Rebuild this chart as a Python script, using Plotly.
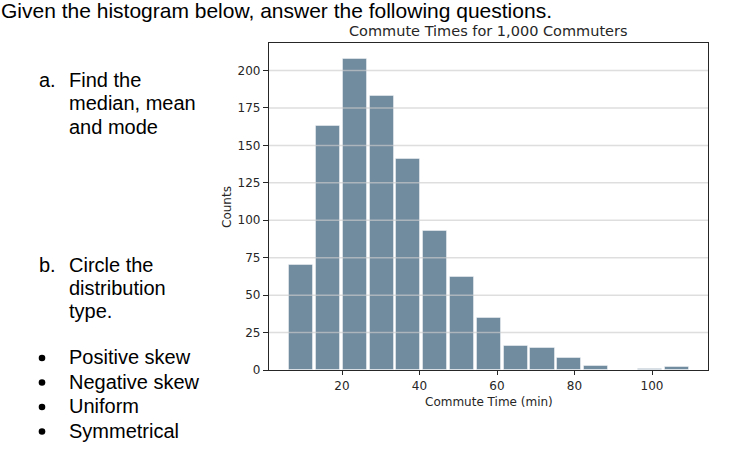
import plotly.graph_objects as go

# ---- data ----
counts = [70, 163, 208, 183, 141, 93, 62, 35, 16, 15, 8, 3, 0, 1, 2]
bin_start = 6.0
bin_width = 6.92
y_ticks = [0, 25, 50, 75, 100, 125, 150, 175, 200]
x_ticks = [20, 40, 60, 80, 100]
chart_title = "Commute Times for 1,000 Commuters"
x_label = "Commute Time (min)"
y_label = "Counts"
header = "Given the histogram below, answer the following questions."
part_a = ["Find the", "median, mean", "and mode"]
part_b = ["Circle the", "distribution", "type."]
options = ["Positive skew", "Negative skew", "Uniform", "Symmetrical"]

centers = [bin_start + bin_width * (i + 0.5) for i in range(len(counts))]

W, H = 735, 449
L, R, T, B = 269, 708, 43, 370


def px(x):
    return (x - L) / (R - L)


def py(y):
    return (B - y) / (B - T)


fig = go.Figure()
fig.add_trace(go.Bar(
    x=centers, y=counts, width=bin_width * 0.9,
    marker=dict(color="#718b9f", line=dict(color="rgba(255,255,255,0.45)", width=1)),
    hoverinfo="x+y",
))

shapes = []
for v in y_ticks[1:]:
    shapes.append(dict(type="line", xref="x domain", yref="y", x0=0, x1=1, y0=v, y1=v,
                       line=dict(color="rgba(205,205,205,0.65)", width=1.5), layer="above"))

tick_font = dict(family="DejaVu Sans", size=12, color="#262626")
ann = []
ann.append(dict(text=chart_title, x=px(488.5), y=py(30.5), xref="paper", yref="paper",
                showarrow=False, xanchor="center", yanchor="middle",
                font=dict(family="DejaVu Sans", size=14.5, color="#262626")))
ann.append(dict(text=x_label, x=px(488.5), y=py(401.5), xref="paper", yref="paper",
                showarrow=False, xanchor="center", yanchor="middle", font=tick_font))
ann.append(dict(text=y_label, x=px(227), y=py(207), xref="paper", yref="paper",
                showarrow=False, xanchor="center", yanchor="middle", textangle=-90, font=tick_font))

slide_font = dict(family="Liberation Sans", size=20, color="#000000")
ann.append(dict(text=header, x=px(0), y=py(10.5), xref="paper", yref="paper",
                showarrow=False, xanchor="left", yanchor="middle", borderpad=0,
                font=dict(family="Liberation Sans", size=21, color="#000000")))

ann.append(dict(text="a.", x=px(37), y=py(80), xref="paper", yref="paper",
                showarrow=False, xanchor="left", yanchor="middle", font=slide_font))
for i, t in enumerate(part_a):
    ann.append(dict(text=t, x=px(67), y=py(80 + 23.5 * i), xref="paper", yref="paper",
                    showarrow=False, xanchor="left", yanchor="middle", font=slide_font))
ann.append(dict(text="b.", x=px(37), y=py(265), xref="paper", yref="paper",
                showarrow=False, xanchor="left", yanchor="middle", font=slide_font))
for i, t in enumerate(part_b):
    ann.append(dict(text=t, x=px(67), y=py(265 + 23 * i), xref="paper", yref="paper",
                    showarrow=False, xanchor="left", yanchor="middle", font=slide_font))
r_b = 3.3
for i, t in enumerate(options):
    yc = 357 + 24.5 * i + 1
    shapes.append(dict(type="circle", xref="paper", yref="paper",
                       x0=px(42 - r_b), x1=px(42 + r_b), y0=py(yc + r_b), y1=py(yc - r_b),
                       fillcolor="#000000", line=dict(width=0)))
    ann.append(dict(text=t, x=px(67), y=py(357 + 24.5 * i), xref="paper", yref="paper",
                    showarrow=False, xanchor="left", yanchor="middle", font=slide_font))

fig.update_layout(
    width=W, height=H, autosize=False,
    margin=dict(l=L, r=W - R, t=T, b=H - B, pad=0),
    paper_bgcolor="white", plot_bgcolor="white",
    showlegend=False, bargap=0,
    shapes=shapes, annotations=ann,
    xaxis=dict(range=[1.16, 114.45], tickvals=x_ticks, ticks="outside", ticklen=4,
               tickcolor="#262626", tickwidth=1, showgrid=False, zeroline=False,
               showline=True, linecolor="#262626", linewidth=1.2, mirror=True,
               tickfont=tick_font, fixedrange=True),
    yaxis=dict(range=[0, 218.4], tickvals=y_ticks, ticks="outside", ticklen=5,
               tickcolor="#262626", tickwidth=1, showgrid=False, zeroline=False,
               showline=True, linecolor="#262626", linewidth=1.2, mirror=True,
               tickfont=tick_font, fixedrange=True),
)

fig.write_html("out.html", config={"displayModeBar": False},
               post_script="document.body.style.margin='0';document.body.style.overflow='hidden';")
